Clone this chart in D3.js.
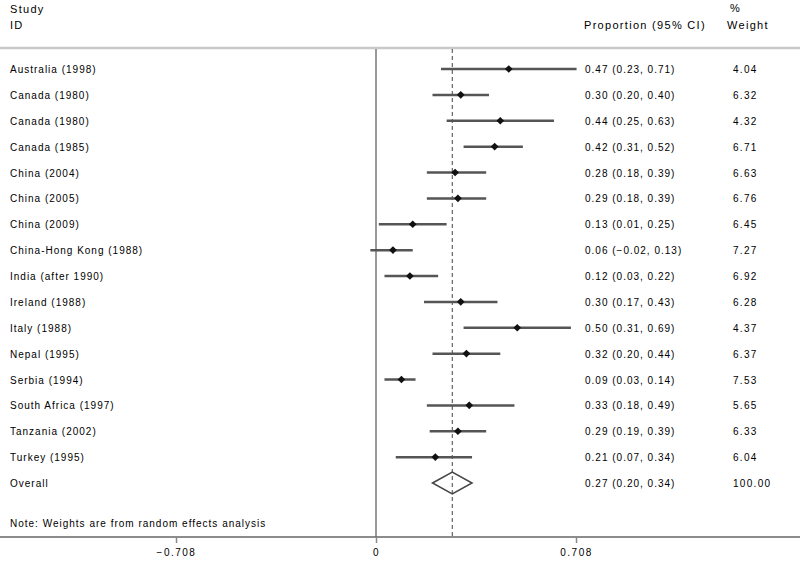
<!DOCTYPE html>
<html>
<head>
<meta charset="utf-8">
<script src="https://cdn.jsdelivr.net/npm/d3@7"></script>
<style>
  body { margin: 0; background: #fff; }
  text { font-family: "Liberation Sans", Arial, sans-serif; font-size: 10px; fill: #000; letter-spacing: 1px; }
  .hdr { font-size: 11px; letter-spacing: 1.3px; }
</style>
</head>
<body>
<div id="chart"></div>
<script>
// study rows, top to bottom
var studies = ["Australia (1998)", "Canada (1980)", "Canada (1980)", "Canada (1985)",
  "China (2004)", "China (2005)", "China (2009)", "China-Hong Kong (1988)",
  "India (after 1990)", "Ireland (1988)", "Italy (1988)", "Nepal (1995)",
  "Serbia (1994)", "South Africa (1997)", "Tanzania (2002)", "Turkey (1995)"];
var est = [0.47, 0.30, 0.44, 0.42, 0.28, 0.29, 0.13, 0.06, 0.12, 0.30, 0.50, 0.32, 0.09, 0.33, 0.29, 0.21];
var lo  = [0.23, 0.20, 0.25, 0.31, 0.18, 0.18, 0.01, -0.02, 0.03, 0.17, 0.31, 0.20, 0.03, 0.18, 0.19, 0.07];
var hi  = [0.71, 0.40, 0.63, 0.52, 0.39, 0.39, 0.25, 0.13, 0.22, 0.43, 0.69, 0.44, 0.14, 0.49, 0.39, 0.34];
var weights = [4.04, 6.32, 4.32, 6.71, 6.63, 6.76, 6.45, 7.27, 6.92, 6.28, 4.37, 6.37, 7.53, 5.65, 6.33, 6.04];
var overall = { est: 0.27, lo: 0.20, hi: 0.34, weight: 100.00 };
var tickVals = [-0.708, 0, 0.708];

var W = 800, H = 565;
var svg = d3.select("#chart").append("svg").attr("width", W).attr("height", H);

var x = d3.scaleLinear().domain([-0.708, 0.708]).range([176, 576]);
var y = d3.scaleLinear().domain([0, studies.length]).range([69, 483]);
var axisY = 537, topY = 48;
var f2 = d3.format(".2f");
var minus = function (s) { return s.replace("-", "\u2212"); };

// header
svg.append("text").attr("class", "hdr").attr("x", 10).attr("y", 13).text("Study");
svg.append("text").attr("class", "hdr").attr("x", 10).attr("y", 29).text("ID");
svg.append("text").attr("class", "hdr").attr("x", 584).attr("y", 29).text("Proportion (95% CI)");
svg.append("text").attr("class", "hdr").attr("x", 730).attr("y", 12).text("%");
svg.append("text").attr("class", "hdr").attr("x", 727).attr("y", 29).text("Weight");

svg.append("line")
  .attr("x1", 0).attr("x2", W).attr("y1", topY).attr("y2", topY)
  .style("stroke", "#c8c8c8").style("stroke-width", 2.5);

// null line and overall line
svg.append("line")
  .attr("x1", x(0)).attr("x2", x(0)).attr("y1", topY + 1).attr("y2", axisY)
  .style("stroke", "#999").style("stroke-width", 2);
svg.append("line")
  .attr("x1", x(overall.est)).attr("x2", x(overall.est)).attr("y1", topY + 1).attr("y2", axisY)
  .style("stroke", "#444").style("stroke-width", 1).style("stroke-dasharray", "4,3");

// rows
var rows = studies.map(function (s, i) {
  return { name: s, est: est[i], lo: lo[i], hi: hi[i], w: weights[i], i: i };
});

svg.selectAll("ci")
  .data(rows).enter().append("line")
  .attr("x1", function (d) { return x(d.lo); })
  .attr("x2", function (d) { return x(d.hi); })
  .attr("y1", function (d) { return y(d.i); })
  .attr("y2", function (d) { return y(d.i); })
  .style("stroke", "#555").style("stroke-width", 2.5);

svg.selectAll("pt")
  .data(rows).enter().append("path")
  .attr("d", d3.symbol(d3.symbolSquare, 30))
  .attr("transform", function (d) { return "translate(" + x(d.est) + "," + y(d.i) + ") rotate(45)"; })
  .style("fill", "#111");

svg.selectAll("lab")
  .data(rows.concat([{ name: "Overall", i: studies.length }])).enter().append("text")
  .attr("x", 10)
  .attr("y", function (d) { return y(d.i) + 4; })
  .text(function (d) { return d.name; });

var all = rows.concat([{ est: overall.est, lo: overall.lo, hi: overall.hi, w: overall.weight, i: studies.length }]);
svg.selectAll("val")
  .data(all).enter().append("text")
  .attr("x", 585)
  .attr("y", function (d) { return y(d.i) + 4; })
  .text(function (d) { return f2(d.est) + " (" + minus(f2(d.lo)) + ", " + f2(d.hi) + ")"; });
svg.selectAll("wt")
  .data(all).enter().append("text")
  .attr("x", 733)
  .attr("y", function (d) { return y(d.i) + 4; })
  .style("letter-spacing", "1.3px")
  .text(function (d) { return f2(d.w); });

// overall diamond
var oy = y(studies.length);
svg.append("path")
  .attr("d", d3.line()([[x(overall.lo), oy], [x(overall.est), oy - 11], [x(overall.hi), oy], [x(overall.est), oy + 11]]) + "Z")
  .style("fill", "none").style("stroke", "#444").style("stroke-width", 1.5);

svg.append("text").attr("x", 10).attr("y", 527)
  .text("Note: Weights are from random effects analysis");

// x axis
svg.append("line")
  .attr("x1", 0).attr("x2", W).attr("y1", axisY).attr("y2", axisY)
  .style("stroke", "#666").style("stroke-width", 1.5);
var ax = svg.append("g").attr("transform", "translate(0," + axisY + ")")
  .call(d3.axisBottom(x).tickValues(tickVals).tickSize(6)
    .tickFormat(function (d) { return d === 0 ? "0" : minus(d3.format(".3f")(d)); }));
ax.select(".domain").remove();
ax.selectAll("line").style("stroke", "#888").style("stroke-width", 1.5);
ax.selectAll("text").attr("dy", "1em")
  .style("font-family", "Liberation Sans, Arial, sans-serif").style("font-size", "10px")
  .style("letter-spacing", "1.5px").style("fill", "#000");
</script>
</body>
</html>
